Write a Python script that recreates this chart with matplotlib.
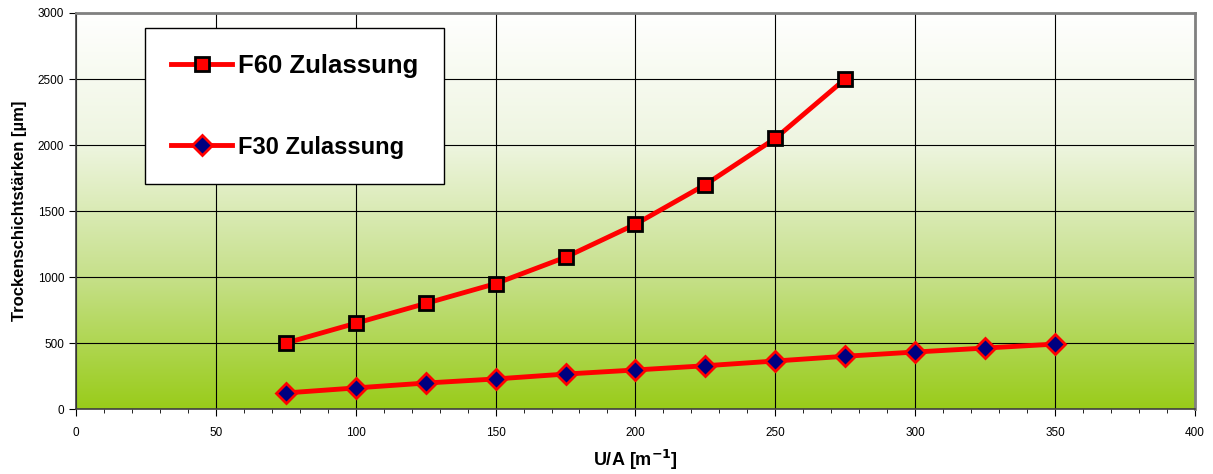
import numpy as np
import matplotlib
matplotlib.use("Agg")
import matplotlib.pyplot as plt
from matplotlib.colors import LinearSegmentedColormap
from matplotlib.ticker import MultipleLocator

plt.rcParams['font.family'] = ['Liberation Sans', 'DejaVu Sans']

f60_x = [75, 100, 125, 150, 175, 200, 225, 250, 275]
f60_y = [500, 650, 800, 950, 1150, 1400, 1700, 2050, 2500]
f30_x = [75, 100, 125, 150, 175, 200, 225, 250, 275, 300, 325, 350]
f30_y = [122, 160, 197, 228, 265, 296, 328, 364, 400, 432, 462, 492]
labels = ["F60 Zulassung", "F30 Zulassung"]

fig = plt.figure(figsize=(12.13, 4.74), dpi=100)
ax = fig.add_axes([0.0627, 0.137, 0.9223, 0.8356])
ax.set_xlim(0, 400)
ax.set_ylim(0, 3000)

cmap = LinearSegmentedColormap.from_list("g", ["#99cc1a", "#c6e08a", "#eef5e0", "#ffffff"])
grad = np.linspace(0, 1, 256).reshape(-1, 1)
ax.imshow(grad, extent=[0, 400, 0, 3000], origin='lower', aspect='auto', cmap=cmap, zorder=0)

ax.xaxis.set_major_locator(MultipleLocator(50))
ax.xaxis.set_minor_locator(MultipleLocator(10))
ax.yaxis.set_major_locator(MultipleLocator(500))
ax.grid(True, which='major', color='black', linewidth=0.8)
ax.set_axisbelow(False)

ax.plot(f60_x, f60_y, color='#ff0000', linewidth=3.5, marker='s', markersize=10,
        markerfacecolor='#ff0000', markeredgecolor='black', markeredgewidth=2, zorder=3, label=labels[0])
ax.plot(f30_x, f30_y, color='#ff0000', linewidth=3.5, marker='D', markersize=10,
        markerfacecolor='#000080', markeredgecolor='#ff0000', markeredgewidth=2, zorder=3, label=labels[1])

for s in ['top', 'right']:
    ax.spines[s].set_color('#808080')
    ax.spines[s].set_linewidth(2)
for s in ['left', 'bottom']:
    ax.spines[s].set_color('#404040')
    ax.spines[s].set_linewidth(1.2)
for s in ax.spines.values():
    s.set_zorder(4)

ax.tick_params(axis='both', which='major', direction='out', length=5, labelsize=8.5, color='black')
ax.tick_params(axis='x', which='minor', direction='out', length=3)
ax.tick_params(axis='x', pad=8)

ax.set_xlabel("U/A [m$^{\\mathbf{-1}}$]", fontsize=13, fontweight='bold', labelpad=6)
ax.set_ylabel("Trockenschichtstärken [µm]", fontsize=12, fontweight='bold', labelpad=8)

leg = ax.legend(loc='upper left', bbox_to_anchor=(0.0617, 0.962),
                prop={'weight': 'bold', 'size': 18.5}, frameon=True, fancybox=False,
                borderpad=1.0, labelspacing=2.25, handlelength=2.4, handletextpad=0.2,
                borderaxespad=0, markerscale=1.0)
leg.get_texts()[1].set_fontsize(17)
leg.get_frame().set_edgecolor('black')
leg.get_frame().set_linewidth(1)
leg.get_frame().set_facecolor('white')
leg.get_frame().set_alpha(1)
leg.set_zorder(5)

fig.savefig("out.png", dpi=100)
